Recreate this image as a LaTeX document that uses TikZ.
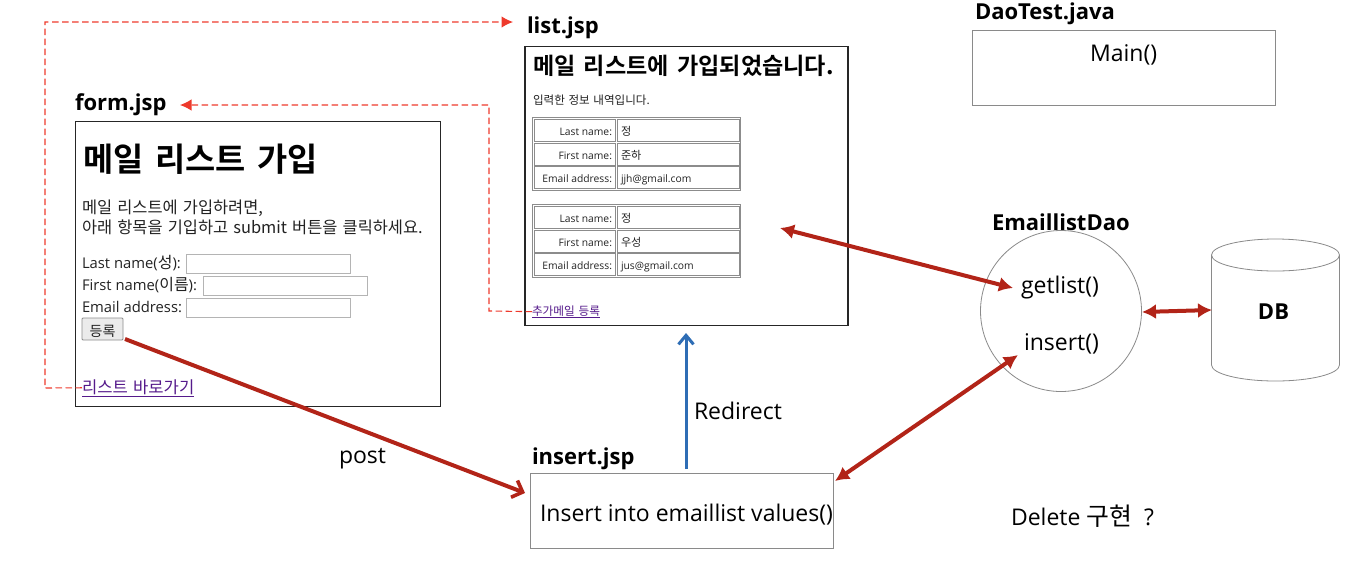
\documentclass[tikz,border=0pt]{standalone}
\usepackage{fontspec}
\setmainfont{Open Sans}
\newfontfamily\kr[Scale=1.08,WordSpace=1.4]{Noto Sans CJK KR}
\newfontfamily\krb[WordSpace=1.6]{Noto Sans CJK KR Bold}
\usetikzlibrary{arrows.meta,shapes.geometric}
\definecolor{tred}{HTML}{B22418}
\definecolor{dred}{HTML}{EE3A2C}
\definecolor{tblue}{HTML}{2E6DB5}
\definecolor{link}{HTML}{551A8B}
\definecolor{boxgray}{HTML}{8A8A8A}
\definecolor{tbl}{HTML}{8C8C8C}
\definecolor{inp}{HTML}{B4B4B4}
\definecolor{ink}{HTML}{222222}
\tikzset{
 every node/.style={inner sep=0pt,outer sep=0pt,text=ink},
 page/.style={draw=black!85,line width=1.7pt,fill=white,anchor=north west},
 plain/.style={draw=boxgray,line width=0.8pt,fill=white,anchor=north west},
 title/.style={anchor=base west,font=\fontsize{22}{25}\selectfont\bfseries,text=black},
 lbl/.style={anchor=base west,font=\fontsize{23}{25}\selectfont,text=black},
 small/.style={anchor=base west,font=\fontsize{14.8}{17}\selectfont},
 para/.style={anchor=base west,font=\fontsize{15.2}{17}\selectfont},
 tiny/.style={font=\fontsize{10.3}{12}\selectfont},
 cell/.style={draw=tbl,line width=0.8pt,anchor=north west},
 outer/.style={draw=tbl,line width=0.8pt,anchor=north west},
 field/.style={draw=inp,line width=0.8pt,fill=white,anchor=north west,minimum width=164pt,minimum height=19pt},
 dashline/.style={draw=dred,dash pattern=on 6.5pt off 3.5pt,line width=1.1pt,-{Latex[length=11.5pt,width=11.5pt]}},
 redarrow/.style={draw=tred,line width=4pt,{Latex[length=14pt,width=15pt]}-{Latex[length=14pt,width=15pt]}},
 redone/.style={draw=tred,line width=4pt,-{Straight Barb[length=9pt,width=18pt,line width=3.6pt]}},
 bluearrow/.style={draw=tblue,line width=3pt,-{Straight Barb[length=9pt,width=15pt,line width=3pt]}},
}
\begin{document}
\begin{tikzpicture}[x=1pt,y=-1pt]
\useasboundingbox (0,0) rectangle (1352,574);

% form.jsp
\node[title] (formt) at (75,110) {form.jsp};
\node[page,minimum width=365pt,minimum height=285pt] (form) at (75.5,121.5) {};
\node[anchor=base west,font=\fontsize{32.8}{34}\selectfont\krb,text=black] (h1) at (83,171) {메일 리스트 가입};
\node[para] (p1) at (82,213) {\kr 메일 리스트에 가입하려면,};
\node[para] (p2) at (82,233) {\kr 아래 항목을 기입하고 submit 버튼을 클릭하세요.};
\node[small] (l1) at (82,268) {Last name(\kr 성\rmfamily):};
\node[small] (l2) at (82,290) {First name(\kr 이름\rmfamily):};
\node[small] (l3) at (82,312) {Email address:};
\node[field] (f1) at (186,254) {};
\node[field] (f2) at (203,276) {};
\node[field] (f3) at (186,298) {};
\node[draw=black!45,fill=black!8,line width=0.8pt,rounded corners=1pt,anchor=north west,minimum width=41pt,minimum height=22pt] (btn) at (82,318) {};
\node[anchor=center,font=\fontsize{13}{15}\selectfont\kr] (btnt) at (102.5,331) {등록};
\node[small,text=link,font=\fontsize{15.4}{17}\selectfont] (flink) at (82,393) {\kr\underline{리스트 바로가기}};

% list.jsp
\node[title] (listt) at (527,33) {list.jsp};
\node[page,minimum width=323pt,minimum height=279pt] (list) at (525,46.5) {};
\node[anchor=base west,font=\fontsize{23.1}{25}\selectfont\krb,text=black] (h2) at (533,74) {메일 리스트에 가입되었습니다.};
\node[anchor=base west,font=\fontsize{10.7}{12}\selectfont\kr] (p3) at (533,104) {입력한 정보 내역입니다.};

% table 1
\node[outer,minimum width=208pt,minimum height=73pt] (t1) at (532.5,117.5) {};
\foreach \yy/\a/\b [count=\i] in {119.5/Last name:/\kr 정,143/First name:/\kr 준하,166/Email address:/jjh@gmail.com}{
  \node[cell,minimum width=81pt,minimum height=22pt] (ta\i) at (534.5,\yy) {};
  \node[cell,minimum width=122pt,minimum height=22pt] (tb\i) at (617,\yy) {};
  \node[tiny,anchor=base east] (tc\i) at (612,\yy+16) {\a};
  \node[tiny,anchor=base west] (td\i) at (621,\yy+16) {\b};
}
% table 2
\node[outer,minimum width=208pt,minimum height=73pt] (t2) at (532.5,204.5) {};
\foreach \yy/\a/\b [count=\i] in {206.5/Last name:/\kr 정,230/First name:/\kr 우성,253/Email address:/jus@gmail.com}{
  \node[cell,minimum width=81pt,minimum height=22pt] (ua\i) at (534.5,\yy) {};
  \node[cell,minimum width=122pt,minimum height=22pt] (ub\i) at (617,\yy) {};
  \node[tiny,anchor=base east] (uc\i) at (612,\yy+16) {\a};
  \node[tiny,anchor=base west] (ud\i) at (621,\yy+16) {\b};
}
\node[anchor=base west,font=\fontsize{10.8}{12}\selectfont\kr,text=link] (llink) at (532,315) {\underline{추가메일 등록}};

% DaoTest
\node[title] (daot) at (975,19) {DaoTest.java};
\node[plain,minimum width=303.5pt,minimum height=75pt] (dao) at (972,30) {};
\node[lbl] (mainm) at (1090,61) {Main()};

% insert.jsp
\node[title] (inst) at (532,464) {insert.jsp};
\node[plain,minimum width=303.5pt,minimum height=75pt] (ins) at (530,473) {};
\node[lbl] (sql) at (540,521) {Insert into emaillist values()};
\node[lbl] (post) at (339,463) {post};
\node[lbl] (redir) at (694,419) {Redirect};
\node[lbl] (del) at (1011,525) {Delete \kr 구현\rmfamily\ \ ?};

% EmaillistDao
\node[title] (edao) at (992,230) {EmaillistDao};
\node[circle,draw=boxgray,line width=0.8pt,fill=white,minimum size=161pt] (circ) at (1061,311) {};
\node[lbl] (gl) at (1021,293) {getlist()};
\node[lbl] (insm) at (1024,350) {insert()};

% DB cylinder
\draw[draw=boxgray,line width=0.8pt,fill=white]
  (1211.5,255) .. controls (1211.5,246.2) and (1240.2,239) .. (1275.5,239)
  .. controls (1310.8,239) and (1339.5,246.2) .. (1339.5,255)
  -- (1339.5,365)
  .. controls (1339.5,373.8) and (1310.8,381) .. (1275.5,381)
  .. controls (1240.2,381) and (1211.5,373.8) .. (1211.5,365)
  -- cycle;
\draw[draw=boxgray,line width=0.8pt]
  (1211.5,255) .. controls (1211.5,263.8) and (1240.2,271) .. (1275.5,271)
  .. controls (1310.8,271) and (1339.5,263.8) .. (1339.5,255);
\node[title,anchor=center] (dbt) at (1273.5,312) {DB};

% connectors
\coordinate (c1a) at (45,388);
\coordinate (c1b) at (45,22);
\coordinate (c1c) at (513,22);
\coordinate (c2a) at (489,311);
\coordinate (c2b) at (489,105);
\coordinate (c2c) at (180,105);
\draw[dashline] (flink.west) -- (c1a) -- (c1b) -- (c1c);
\draw[dashline] (llink.west) -- (c2a) -- (c2b) -- (c2c);

\coordinate (pa) at (125,339);
\coordinate (pb) at (525,493);
\draw[redone] (pa) -- (pb);
\coordinate (ra) at (686,469);
\coordinate (rb) at (686,333);
\draw[bluearrow] (ra) -- (rb);
\coordinate (ga) at (780,228);
\coordinate (gb) at (1013,288);
\draw[redarrow] (ga) -- (gb);
\coordinate (ia) at (835,481);
\coordinate (ib) at (1018,355);
\draw[redarrow] (ia) -- (ib);
\coordinate (da) at (1142,312);
\coordinate (db2) at (1212,310);
\draw[redarrow] (da) -- (db2);
\end{tikzpicture}
\end{document}
